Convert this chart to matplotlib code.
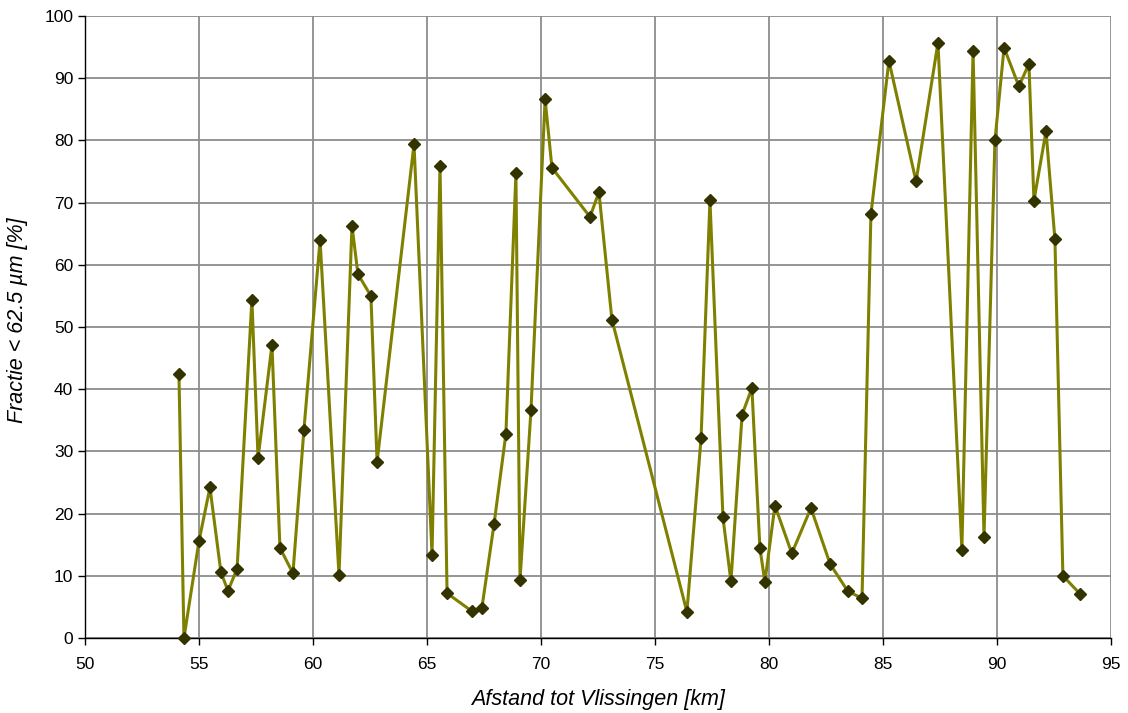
import matplotlib
matplotlib.use("Agg")
import matplotlib.pyplot as plt

afstand = [54.12, 54.34, 55.0, 55.48, 55.96, 56.27, 56.67, 57.32, 57.59, 58.2,
           58.55, 59.12, 59.6, 60.31, 61.14, 61.71, 61.97, 62.54, 62.81, 64.43,
           65.22, 65.57, 65.88, 66.97, 67.41, 67.94, 68.46, 68.9, 69.08, 69.56,
           70.18, 70.48, 72.15, 72.54, 73.11, 76.4, 77.02, 77.41, 77.98, 78.33,
           78.82, 79.25, 79.6, 79.82, 80.26, 81.0, 81.84, 82.68, 83.46, 84.08,
           84.47, 85.26, 86.45, 87.41, 88.46, 88.95, 89.43, 89.91, 90.31, 90.96,
           91.4, 91.62, 92.15, 92.54, 92.89, 93.64]
fractie = [42.5, 0.0, 15.6, 24.2, 10.6, 7.6, 11.1, 54.4, 28.9, 47.1,
           14.5, 10.4, 33.4, 64.0, 10.1, 66.3, 58.5, 55.0, 28.3, 79.4,
           13.4, 75.9, 7.2, 4.3, 4.9, 18.3, 32.8, 74.7, 9.4, 36.6,
           86.6, 75.6, 67.7, 71.7, 51.2, 4.2, 32.1, 70.4, 19.4, 9.1,
           35.9, 40.2, 14.5, 9.0, 21.3, 13.6, 20.9, 11.9, 7.5, 6.4,
           68.1, 92.8, 73.4, 95.7, 14.2, 94.4, 16.3, 80.0, 94.9, 88.7,
           92.3, 70.3, 81.5, 64.1, 10.0, 7.1]

plt.rcParams['font.family'] = ['Liberation Sans', 'DejaVu Sans']

fig = plt.figure(figsize=(11.28, 7.13), dpi=100)
ax = fig.add_axes([85/1128, 75/713, 1026/1128, 622/713])

ax.plot(afstand, fractie, color='#808000', lw=2.2, marker='D', ms=6,
        markerfacecolor='#333300', markeredgecolor='#333300', zorder=3,
        clip_on=False)

ax.set_xlim(50, 95)
ax.set_ylim(0, 100)
ax.set_xticks(range(50, 96, 5))
ax.set_yticks(range(0, 101, 10))
ax.grid(True, color='#8c8c8c', lw=1.3)
ax.set_axisbelow(True)
for s in ['top', 'right']:
    ax.spines[s].set_visible(False)
for s in ['left', 'bottom']:
    ax.spines[s].set_color('black')
    ax.spines[s].set_linewidth(1.0)
ax.tick_params(axis='both', direction='out', length=5, width=1, labelsize=12.5,
               color='black')
ax.tick_params(axis='x', pad=9)
ax.tick_params(axis='y', pad=3.5)
ax.set_xlabel('Afstand tot Vlissingen [km]', fontsize=15.5, style='italic', labelpad=12)
ax.set_ylabel('Fractie < 62.5 µm [%]', fontsize=15.5, style='italic')
ax.yaxis.set_label_coords(-0.056, 0.511)

fig.savefig('out.png', dpi=100)
